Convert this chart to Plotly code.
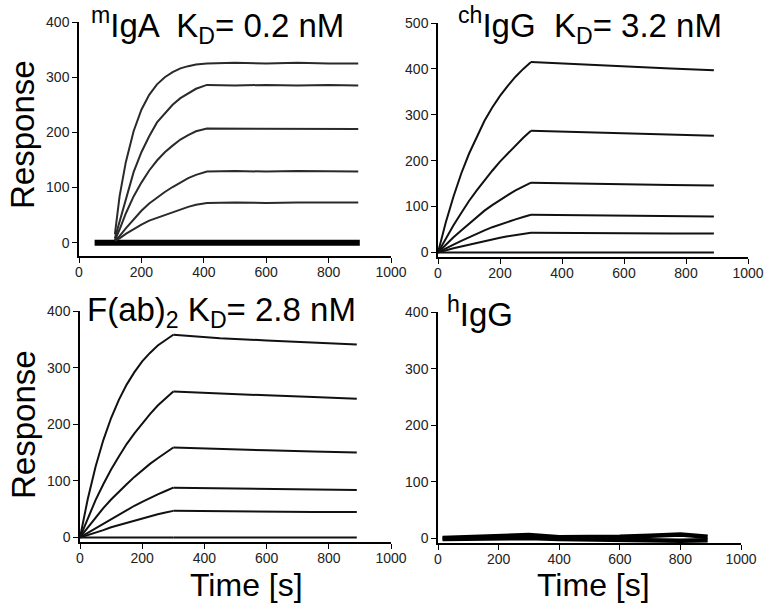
import plotly.graph_objects as go

# ---- mIgA panel (top left) ----
t_iga = [115, 130, 150, 175, 200, 225, 250, 275, 300, 325, 350, 375, 410, 500, 600, 700, 800, 895]
iga_1 = [15, 84, 146, 202, 241, 268, 287, 300, 309, 316, 320, 323, 325, 326, 325, 326, 325, 325]
iga_2 = [8, 38, 82, 128, 164, 193, 218, 235, 250, 262, 271, 279, 286, 285, 286, 285, 286, 285]
iga_3 = [5, 24, 53, 84, 109, 131, 149, 164, 176, 187, 195, 202, 207, 207, 206, 207, 206, 206]
iga_4 = [4, 12, 26, 42, 58, 71, 82, 92, 101, 109, 117, 123, 129, 130, 129, 130, 129, 129]
iga_5 = [4, 8, 16, 25, 33, 40, 45, 51, 56, 61, 65, 69, 72, 73, 72, 73, 73, 73]
t_iga_base = [50, 200, 400, 600, 800, 900]
iga_base = [0, 0, 1, 0, 1, 0]

# ---- association / dissociation grids for chIgG and F(ab)2 ----
t_assoc = [0, 25, 50, 75, 100, 125, 150, 175, 200, 225, 250, 275, 300]
t_dissoc = [300, 450, 600, 750, 890]

chigg_assoc = [
    [0, 65, 122, 172, 215, 253, 287, 316, 341, 363, 383, 400, 415],
    [0, 31, 59, 86, 112, 135, 157, 178, 198, 216, 233, 250, 265],
    [0, 17, 33, 48, 63, 77, 91, 103, 115, 125, 135, 144, 152],
    [0, 9, 17, 25, 33, 40, 48, 55, 61, 67, 72, 77, 82],
    [0, 5, 9, 13, 17, 21, 25, 28, 32, 35, 38, 41, 43],
    [0, 0, 0, 0, 0, 0, 0, 0, 0, 0, 0, 0, 0],
]
chigg_dissoc = [
    [415, 410, 405, 401, 397],
    [265, 262, 259, 256, 254],
    [152, 150, 149, 147, 146],
    [82, 81, 80, 79, 78],
    [43, 42, 42, 41, 41],
    [0, 0, 0, 0, 0],
]

fab_assoc = [
    [0, 68, 125, 172, 211, 243, 270, 292, 311, 326, 339, 349, 358],
    [0, 34, 66, 94, 120, 143, 165, 184, 202, 218, 233, 246, 258],
    [0, 18, 35, 52, 67, 81, 94, 107, 119, 130, 140, 150, 159],
    [0, 8, 17, 25, 33, 41, 49, 56, 63, 70, 76, 82, 88],
    [0, 4, 9, 13, 18, 22, 26, 30, 34, 38, 41, 44, 47],
    [0, 0, 0, 0, 0, 0, 0, 0, 0, 0, 0, 0, 0],
]
fab_dissoc = [
    [358, 352, 348, 344, 341],
    [258, 254, 251, 248, 245],
    [159, 156, 154, 152, 150],
    [88, 87, 86, 85, 84],
    [47, 46, 46, 45, 45],
    [0, 0, 0, 0, 0],
]

# ---- hIgG panel (no binding) ----
t_higg = [15, 100, 200, 300, 400, 500, 600, 700, 800, 890]
higg_hi = [1, 2, 4, 6, 2, 2, 3, 5, 7, 3]
higg_lo = [-1, 0, 1, 1, -1, -2, -3, -4, -4, -3]

W, H = 765, 606


def px(x):
    return x / W


def py(y):
    return 1 - y / H


fig = go.Figure()


def add_line(x, y, axis, width=2.0, color='#111111'):
    fig.add_trace(go.Scatter(
        x=x, y=y, mode='lines', xaxis='x' + axis, yaxis='y' + axis,
        line=dict(color=color, width=width), showlegend=False, hoverinfo='skip'
    ))


add_line(t_iga_base, iga_base, '', width=6, color='#000000')
for curve in [iga_1, iga_2, iga_3, iga_4, iga_5]:
    add_line(t_iga, curve, '', width=2.0, color='#2a2a2a')

for a, d in zip(chigg_assoc, chigg_dissoc):
    add_line(t_assoc, a, '2')
    add_line(t_dissoc, d, '2')

for a, d in zip(fab_assoc, fab_dissoc):
    add_line(t_assoc, a, '3')
    add_line(t_dissoc, d, '3')

add_line(t_higg, higg_hi, '4', width=4.5, color='#000000')
add_line(t_higg, higg_lo, '4', width=4.5, color='#000000')

tick_font = dict(family='Liberation Sans, Arial', size=14, color='#222222')
axis_style = dict(
    showgrid=False, zeroline=False, showline=True, linecolor='#000000', linewidth=1.5,
    ticks='outside', ticklen=5, tickwidth=1.2, tickcolor='#000000', tickfont=tick_font,
    automargin=False,
)
x_style = dict(axis_style, ticklabelstandoff=-3)

fig.update_layout(
    width=W, height=H,
    margin=dict(l=0, r=0, t=0, b=0),
    paper_bgcolor='white', plot_bgcolor='white',
    font=dict(family='Liberation Sans, Arial', color='#000000'),
    xaxis=dict(domain=[px(79), px(391)], range=[0, 1000], dtick=200, anchor='y', **x_style),
    yaxis=dict(domain=[py(256), py(22)], range=[-24, 400], dtick=100, anchor='x', **axis_style),
    xaxis2=dict(domain=[px(438), px(748)], range=[0, 1000], dtick=200, anchor='y2', **x_style),
    yaxis2=dict(domain=[py(257), py(23)], range=[-10, 500], dtick=100, anchor='x2', **axis_style),
    xaxis3=dict(domain=[px(80), px(391)], range=[0, 1000], dtick=200, anchor='y3', **x_style),
    yaxis3=dict(domain=[py(542), py(311)], range=[-8, 400], dtick=100, anchor='x3', **axis_style),
    xaxis4=dict(domain=[px(438), px(741)], range=[0, 1000], dtick=200, anchor='y4', **x_style),
    yaxis4=dict(domain=[py(543), py(312)], range=[-8, 400], dtick=100, anchor='x4', **axis_style),
)

title_font = dict(family='Liberation Sans, Arial', size=33, color='#000000')
titles = [
    ('<sup>m</sup>IgA  K<sub>D</sub>= 0.2 nM', 89, 25),
    ('<sup>ch</sup>IgG  K<sub>D</sub>= 3.2 nM', 456, 25),
    ('F(ab)<sub>2</sub> K<sub>D</sub>= 2.8 nM', 85, 312),
    ('<sup>h</sup>IgG', 445, 312),
]
for text, x, y in titles:
    fig.add_annotation(text=text, x=px(x), y=py(y), xref='paper', yref='paper',
                       xanchor='left', yanchor='middle', showarrow=False, font=title_font)

label_font = dict(family='Liberation Sans, Arial', size=33, color='#000000')
for y in [135, 425]:
    fig.add_annotation(text='Response', x=px(23), y=py(y), xref='paper', yref='paper',
                       xanchor='center', yanchor='middle',
                       textangle=-90, showarrow=False, font=label_font)
time_font = dict(family='Liberation Sans, Arial', size=32, color='#000000')
for x in [246, 593]:
    fig.add_annotation(text='Time [s]', x=px(x), y=py(585), xref='paper', yref='paper',
                       xanchor='center', yanchor='middle',
                       showarrow=False, font=time_font)

fig.write_html("out.html", config={'displayModeBar': False},
               post_script="document.body.style.margin='0';")
